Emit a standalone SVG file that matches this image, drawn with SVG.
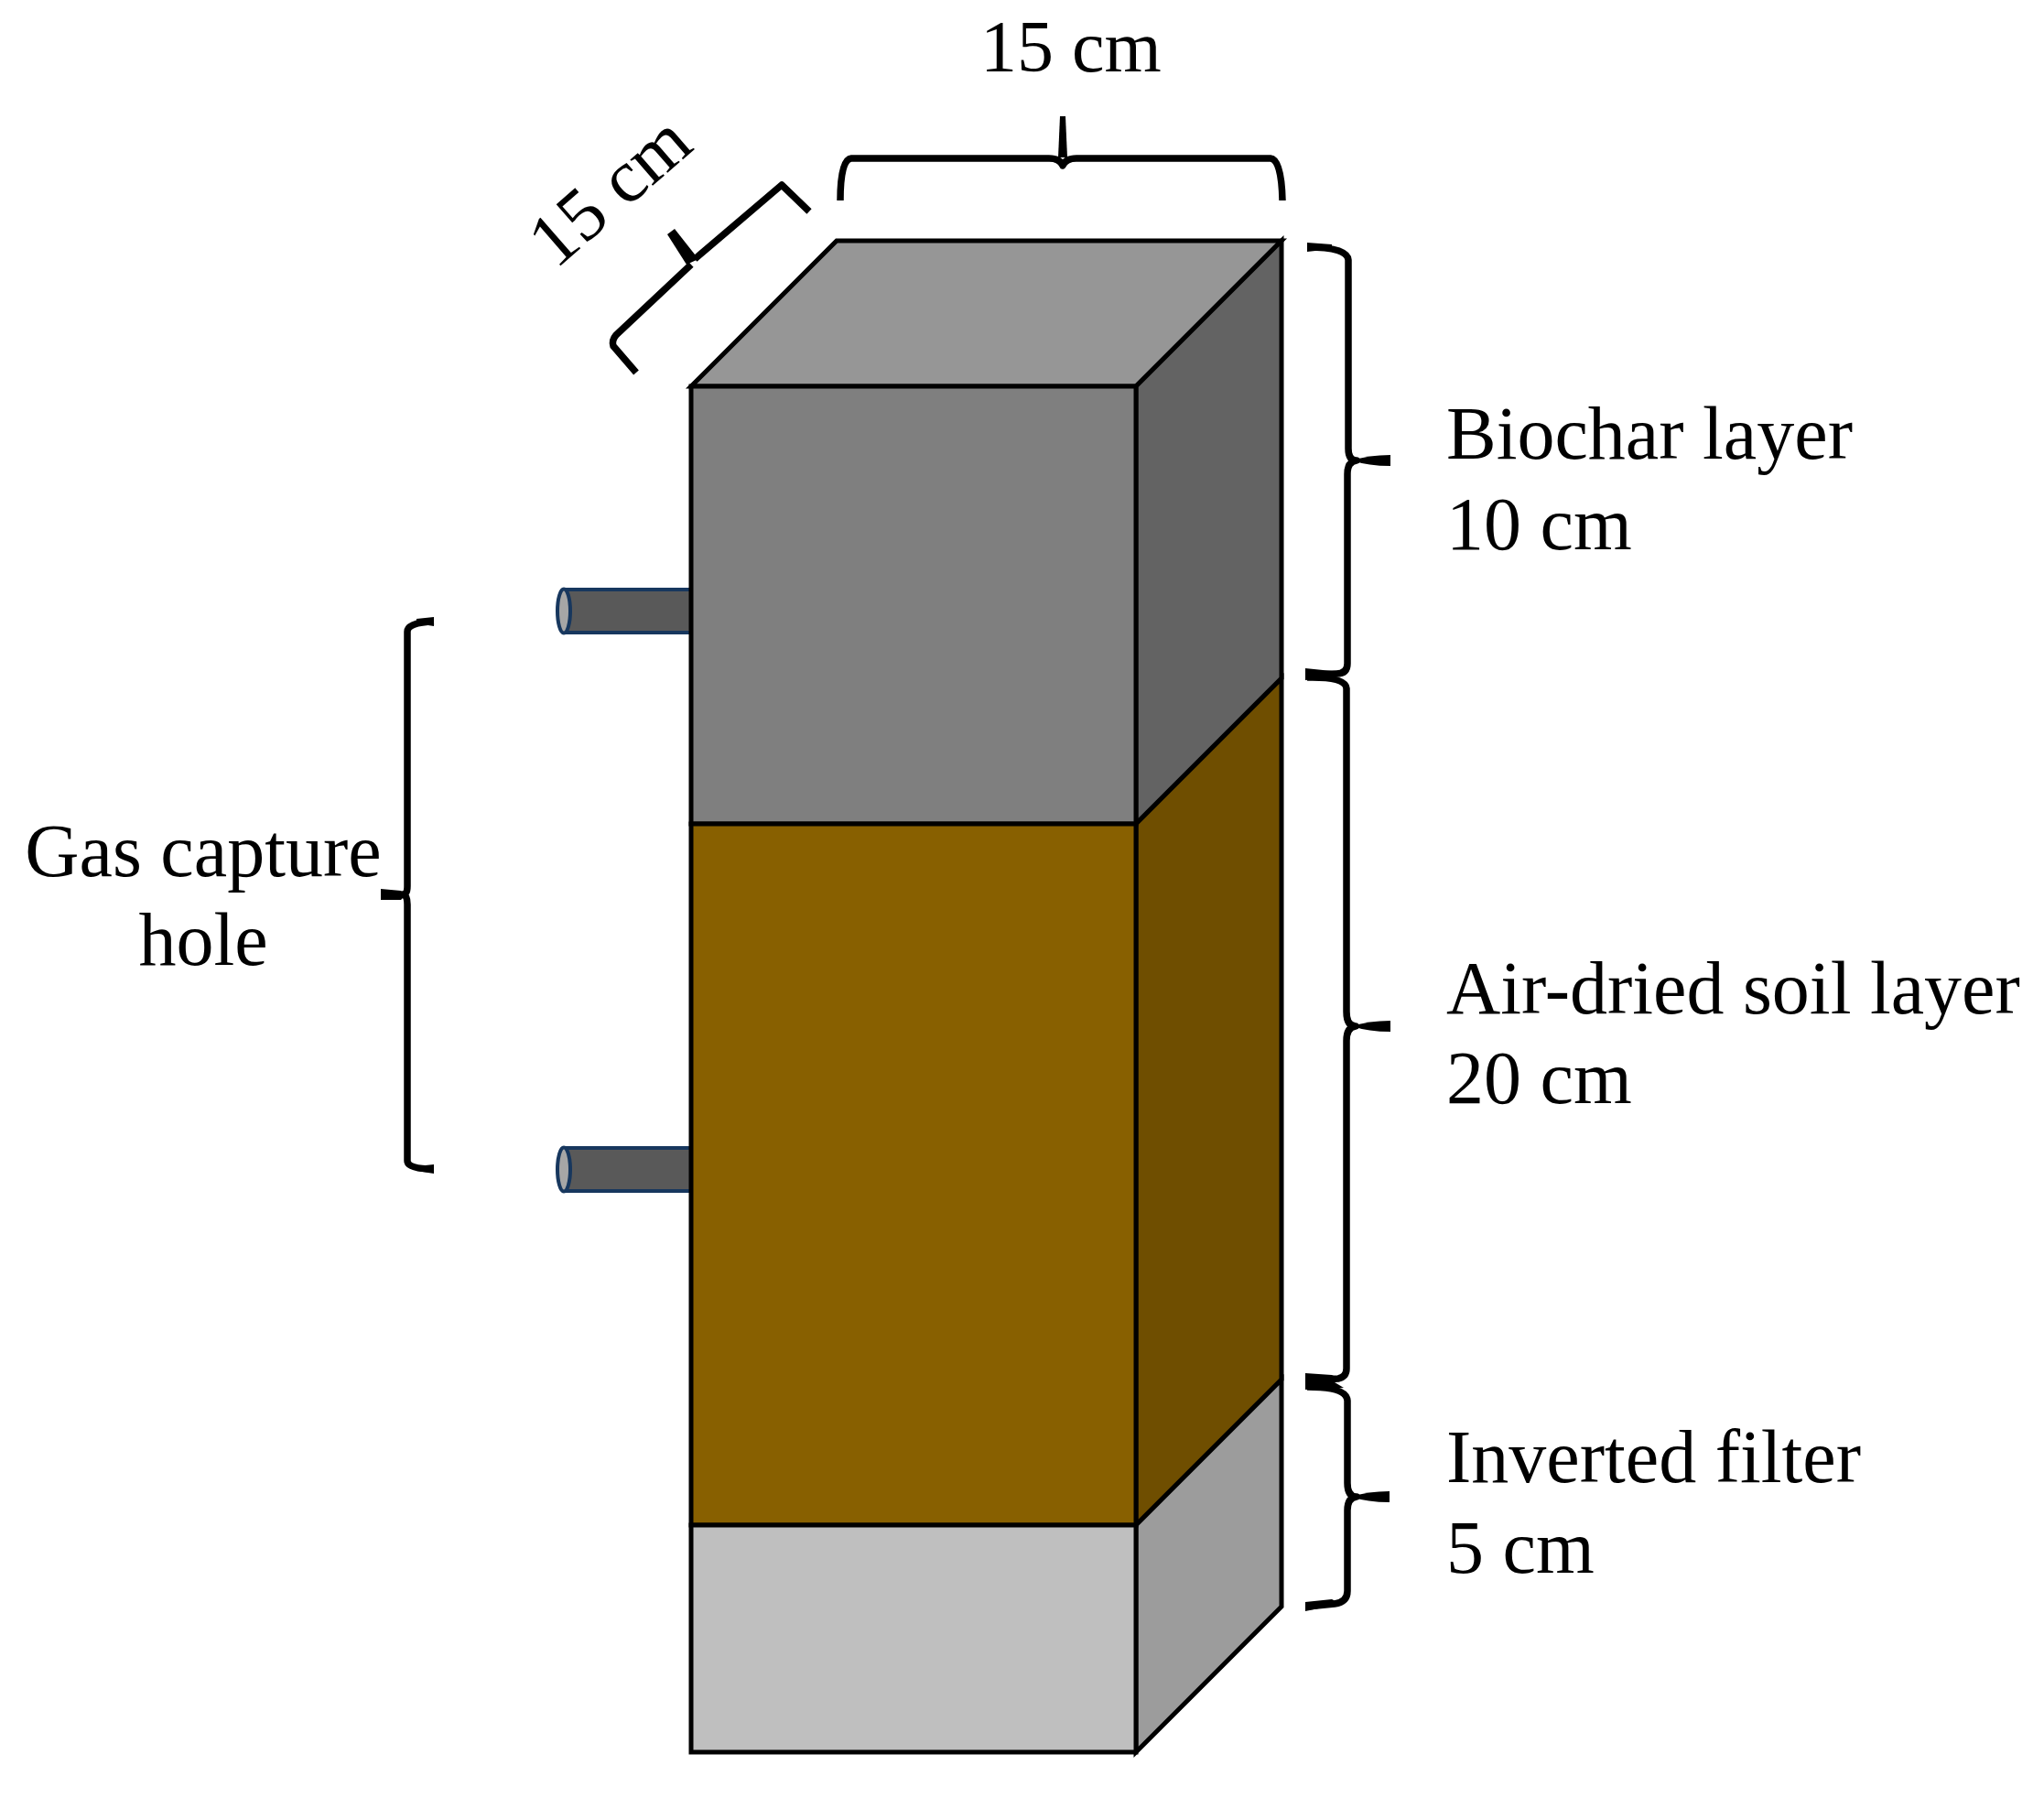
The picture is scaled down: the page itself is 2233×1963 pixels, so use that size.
<svg xmlns="http://www.w3.org/2000/svg" width="2233" height="1963" viewBox="0 0 2233 1963">
<style>
.f{stroke:#000;stroke-width:5;stroke-linejoin:miter}
.b{fill:none;stroke:#000;stroke-width:7.5;stroke-linejoin:round}
.tip{fill:#000;stroke:none}
.t{font-family:"Liberation Serif","Times New Roman",serif;font-size:82px;fill:#000}
.tube{fill:#595959;stroke:#17375e;stroke-width:4}
.cap{fill:#a6a6a6;stroke:#17375e;stroke-width:4}
</style>
<defs>
<path id="tipR" d="M0,0 Q18,-6 42,-6 L42,6 Q18,6 0,0Z"/>
</defs>
<rect width="2233" height="1963" fill="#fff"/>
<g id="tube-upper"><rect class="tube" x="616" y="644" width="140" height="47"/><ellipse class="cap" cx="616" cy="667.500" rx="7" ry="24"/></g>
<g id="tube-lower"><rect class="tube" x="616" y="1254" width="140" height="47"/><ellipse class="cap" cx="616" cy="1277.500" rx="7" ry="24"/></g>
<g id="column">
<polygon id="top-face" class="f" fill="#969696" points="755,422 914,263 1400,263 1241,422"/>
<polygon id="biochar-side" class="f" fill="#636363" points="1241,422 1400,263 1400,741 1241,900"/>
<polygon id="soil-side" class="f" fill="#6f4e00" points="1241,900 1400,741 1400,1507 1241,1666"/>
<polygon id="filter-side" class="f" fill="#9c9c9c" points="1241,1666 1400,1507 1400,1755 1241,1914"/>
<rect id="biochar-front" class="f" fill="#7f7f7f" x="755" y="422" width="486" height="478"/>
<rect id="soil-front" class="f" fill="#886000" x="755" y="900" width="486" height="766"/>
<rect id="filter-front" class="f" fill="#bfbfbf" x="755" y="1666" width="486" height="248"/>
</g>
<g id="connectors">
<path class="b" d="M918,219 Q918,174 930,173 L1146,173 Q1158,173 1161,181 Q1164,173 1176,173 L1388,173 Q1400,174 1401,219"/>
<path class="tip" d="M1158,127 L1164,127 L1166,172 L1156,172Z"/>
<path class="b" d="M884,231 L854,202 L759,283"/>
<path class="tip" d="M737,250 L729,256 L750,289 L763,283Z"/>
<path class="b" d="M755,289 L673,366 Q668,372 670,378 L695,407"/>
<path class="b" d="M1428,270 Q1472,270 1473,284 L1473,490 Q1473,503 1482,503 Q1472,504 1472,518 L1472,725 Q1472,736 1460,736 L1428,737"/>
<use href="#tipR" class="tip" transform="translate(1477,503)"/>
<path class="tip" d="M1426,730 L1455,733 L1468,738 L1426,743Z"/>
<path class="tip" d="M1428,265 L1455,267 L1455,272 L1428,275Z"/>
<path class="b" d="M1428,740 Q1470,739 1471,752 L1471,1105 Q1471,1121 1481,1121 Q1471,1122 1471,1137 L1471,1495 Q1471,1504 1462,1506 L1428,1508"/>
<use href="#tipR" class="tip" transform="translate(1477,1121)"/>
<path class="tip" d="M1426,1500 L1455,1502 L1468,1508 L1426,1512Z"/>
<path class="b" d="M1428,1515 Q1471,1515 1472,1530 L1472,1620 Q1472,1635 1482,1635 Q1472,1636 1472,1650 L1472,1738 Q1472,1750 1458,1752 L1428,1755"/>
<use href="#tipR" class="tip" transform="translate(1476,1635)"/>
<path class="tip" d="M1426,1508 L1458,1510 L1468,1516 L1426,1518Z"/>
<path class="tip" d="M1426,1750 L1455,1747 L1465,1752 L1426,1760Z"/>
<path class="b" d="M474,679 Q445,680 445,690 L445,968 Q445,977 440,977 Q445,978 445,988 L445,1268 Q445,1277 474,1277"/>
<path class="tip" d="M416,971 L438,973 L443,978 L438,983 L416,983Z"/>
<path class="tip" d="M474,674 L455,676 L455,681 L474,684Z"/>
<path class="tip" d="M474,1272 L455,1274 L455,1279 L474,1282Z"/>
</g>
<g id="label-top"><text class="t" x="1071" y="78" style="font-size:80px">15 cm</text></g>
<g id="label-depth"><text class="t" transform="translate(607,295) rotate(-41)">15 cm</text></g>
<g id="label-biochar"><text class="t" x="1580" y="501">Biochar layer</text><text class="t" x="1580" y="600">10 cm</text></g>
<g id="label-soil"><text class="t" x="1580" y="1107">Air-dried soil layer</text><text class="t" x="1580" y="1205">20 cm</text></g>
<g id="label-filter"><text class="t" x="1580" y="1619">Inverted filter</text><text class="t" x="1580" y="1718">5 cm</text></g>
<g id="label-gas"><text class="t" x="222" y="957" text-anchor="middle">Gas capture</text><text class="t" x="222" y="1054" text-anchor="middle">hole</text></g>
</svg>
